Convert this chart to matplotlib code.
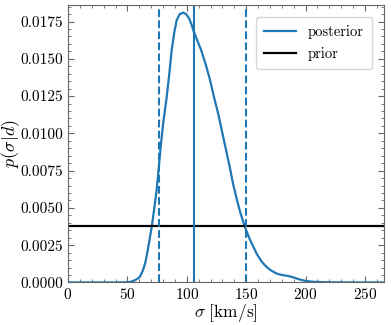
import numpy as np
import matplotlib
matplotlib.use("Agg")
import matplotlib.pyplot as plt
from matplotlib.ticker import MultipleLocator

plt.rcParams['font.family'] = 'serif'
plt.rcParams['font.serif'] = ['cmr10', 'DejaVu Serif']
plt.rcParams['mathtext.fontset'] = 'cm'
plt.rcParams['axes.formatter.use_mathtext'] = True
plt.rcParams['axes.unicode_minus'] = False

# posterior density
sigma = [0, 20, 40, 48, 52, 55, 58, 60.5, 63, 65, 67, 70.4, 72.5, 74.6, 76.5,
         78, 80, 83, 85, 87.3, 89.5, 91.5, 94, 97, 99.5, 102, 104, 106, 109,
         112, 116, 119.5, 123, 126.5, 130, 133, 136, 139, 142, 145, 149, 153,
         156, 159, 163, 167, 171, 175.5, 180, 184, 187, 190, 195, 200, 205,
         210, 220, 240, 265]
post = [0, 0, 0, 0.00001, 0.00003, 0.0001, 0.00022, 0.00038, 0.0008, 0.0013,
        0.0021, 0.0037, 0.0049, 0.0062, 0.0078, 0.0091, 0.0106, 0.0124,
        0.0138, 0.0156, 0.0168, 0.0176, 0.0180, 0.0181, 0.0180, 0.0177,
        0.0173, 0.0168, 0.0162, 0.0156, 0.0146, 0.0136, 0.0124, 0.0113,
        0.0100, 0.0089, 0.0078, 0.0066, 0.0056, 0.0047, 0.0037, 0.0029,
        0.0024, 0.0019, 0.0014, 0.00105, 0.0008, 0.0006, 0.0005, 0.00045,
        0.0004, 0.00033, 0.0002, 0.0001, 0.00005, 0.00003, 0.00001, 0, 0]

prior_level = 1 / 265.0
median = 106
lower, upper = 77, 149.5

fig = plt.figure(figsize=(3.91, 3.25), dpi=100)
ax = fig.add_axes([0.174, 0.131, 0.808, 0.853])

ax.plot(sigma, post, color='C0', lw=1.6, label='posterior')
ax.axhline(prior_level, color='black', lw=1.6, label='prior')
ax.axvline(median, color='C0', lw=1.5)
ax.axvline(lower, color='C0', lw=1.5, ls='--')
ax.axvline(upper, color='C0', lw=1.5, ls='--')

ax.set_xlim(0, 266)
ax.set_ylim(0, 0.0186)
ax.xaxis.set_major_locator(MultipleLocator(50))
ax.xaxis.set_minor_locator(MultipleLocator(10))
ax.yaxis.set_major_locator(MultipleLocator(0.0025))
ax.yaxis.set_minor_locator(MultipleLocator(0.0005))
ax.yaxis.set_major_formatter(plt.FuncFormatter(lambda v, p: f"{v:.4f}"))
ax.tick_params(which='both', direction='in', top=True, right=True,
               labelsize=11, color='0.4')
ax.tick_params(which='major', length=4)
ax.tick_params(which='minor', length=2)
for s in ax.spines.values():
    s.set_color('0.4')

ax.set_xlabel(r'$\sigma\ \mathrm{[km/s]}$', fontsize=12.5, labelpad=0)
ax.set_ylabel(r'$p(\sigma|d)$', fontsize=13)
ax.yaxis.set_label_coords(-0.145, 0.5)

ax.legend(loc='upper right', fontsize=10.5, handlelength=2.2,
          labelspacing=0.6, borderpad=0.55, bbox_to_anchor=(0.985, 0.985))

plt.savefig('out.png', dpi=100)
